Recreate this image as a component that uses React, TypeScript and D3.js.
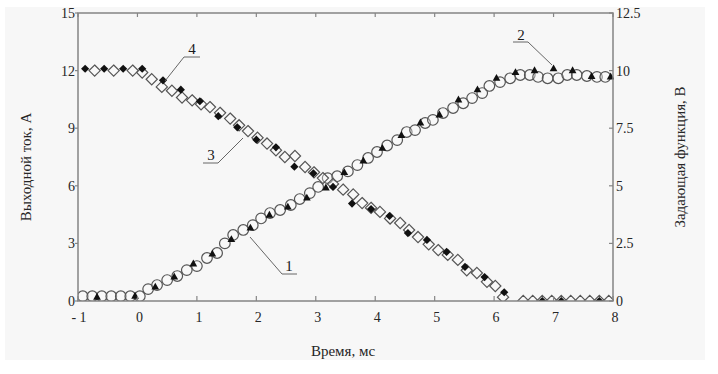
import React from "react";
import * as d3 from "d3";

// Series 1: open circles – output current, A
const s1T = [-0.92, -0.76, -0.6, -0.44, -0.28, -0.12, 0.04, 0.18, 0.33, 0.5, 0.67, 0.83, 1.0, 1.17, 1.34, 1.47, 1.61, 1.78, 1.94, 2.08, 2.23, 2.4, 2.58, 2.73, 2.9, 3.04, 3.2, 3.36, 3.54, 3.7, 3.88, 4.03, 4.2, 4.37, 4.53, 4.67, 4.84, 4.97, 5.14, 5.31, 5.48, 5.63, 5.8, 5.92, 6.1, 6.27, 6.44, 6.6, 6.74, 6.9, 7.08, 7.23, 7.39, 7.56, 7.73, 7.87];
const s1A = [0.25, 0.25, 0.25, 0.25, 0.25, 0.25, 0.25, 0.62, 0.83, 1.09, 1.3, 1.61, 1.82, 2.24, 2.5, 3.0, 3.44, 3.7, 3.95, 4.3, 4.58, 4.74, 5.0, 5.31, 5.62, 5.94, 6.4, 6.5, 6.75, 7.08, 7.45, 7.76, 8.1, 8.38, 8.8, 8.9, 9.27, 9.43, 9.79, 10.05, 10.3, 10.57, 10.83, 11.2, 11.4, 11.6, 11.77, 11.77, 11.67, 11.6, 11.6, 11.77, 11.77, 11.72, 11.67, 11.67];

// Series 2: filled triangles – set function, V
const s2T = [-0.68, -0.04, 0.3, 0.62, 0.94, 1.26, 1.58, 1.9, 2.22, 2.53, 2.85, 3.17, 3.48, 3.8, 4.12, 4.44, 4.76, 5.08, 5.4, 5.72, 6.04, 6.36, 6.68, 7.0, 7.32, 7.64, 7.96];
const s2V = [0.17, 0.21, 0.61, 1.04, 1.61, 2.04, 2.67, 3.17, 3.73, 4.08, 4.47, 4.91, 5.58, 6.08, 6.63, 7.19, 7.73, 8.08, 8.73, 9.17, 9.67, 9.92, 10.0, 10.08, 10.0, 9.75, 9.73];

// Series 3: open diamonds – output current, A
const s3T = [-0.72, -0.4, -0.08, 0.08, 0.24, 0.41, 0.58, 0.75, 0.92, 1.07, 1.22, 1.39, 1.56, 1.71, 1.86, 2.02, 2.18, 2.33, 2.48, 2.65, 2.82, 2.97, 3.12, 3.29, 3.46, 3.63, 3.78, 3.93, 4.08, 4.25, 4.42, 4.57, 4.72, 4.9, 5.06, 5.22, 5.39, 5.54, 5.71, 5.88, 6.02, 6.15, 6.49, 6.65, 6.81, 6.97, 7.13, 7.29, 7.45, 7.61, 7.77, 7.93];
const s3A = [12.0, 12.0, 12.0, 11.9, 11.55, 11.15, 10.95, 10.6, 10.45, 10.25, 10.1, 9.8, 9.5, 9.15, 8.85, 8.5, 8.2, 7.85, 7.5, 7.55, 6.98, 6.7, 6.4, 6.1, 5.8, 5.55, 5.1, 4.85, 4.64, 4.3, 4.06, 3.7, 3.33, 2.95, 2.65, 2.4, 2.14, 1.6, 1.46, 1.0, 0.78, 0.2, 0, 0, 0, 0, 0, 0, 0, 0, 0, 0];

// Series 4: filled diamonds – set function, V
const s4T = [-0.88, -0.56, -0.24, 0.08, 0.43, 0.73, 1.05, 1.36, 1.68, 2.0, 2.33, 2.64, 2.96, 3.29, 3.61, 3.93, 4.24, 4.55, 4.87, 5.2, 5.51, 5.84, 6.17, 6.81, 7.13, 7.77];
const s4V = [10.08, 10.08, 10.08, 10.08, 9.58, 9.17, 8.67, 8.02, 7.54, 7.0, 6.67, 5.83, 5.54, 4.95, 4.23, 3.99, 3.69, 2.95, 2.65, 2.13, 1.48, 1.04, 0.38, 0, 0, 0];

const xTicks = [-1, 0, 1, 2, 3, 4, 5, 6, 7, 8];
const yLeftTicks = [0, 3, 6, 9, 12, 15];
const yRightTicks = [0, 2.5, 5, 7.5, 10, 12.5];

const callouts = [
  { label: "1", pts: [[250, 237], [282, 274], [297, 274]], tx: 289, ty: 271 },
  { label: "2", pts: [[552, 65], [528, 42], [513, 42]], tx: 521, ty: 40 },
  { label: "3", pts: [[243, 138], [218, 163], [203, 163]], tx: 211, ty: 160 },
  { label: "4", pts: [[165, 81], [184, 57], [200, 57]], tx: 192, ty: 54 },
];

export default function App() {
  const L = 78, R = 613, T = 13, B = 301;
  const x = d3.scaleLinear().domain([-1, 8]).range([L, R]);
  const yL = d3.scaleLinear().domain([0, 15]).range([B, T]);
  const yR = d3.scaleLinear().domain([0, 12.5]).range([B, T]);
  const font = "'Liberation Serif', 'Times New Roman', serif";
  const axisColor = "#858585";
  const textColor = "#262626";
  const markStroke = "#555";
  const line = d3.line();

  const diamond = (cx: number, cy: number, r: number) =>
    `M${cx},${cy - r}L${cx + r},${cy}L${cx},${cy + r}L${cx - r},${cy}Z`;
  const tri = (cx: number, cy: number, s: number) =>
    `M${cx},${cy - s}L${cx + s * 0.9},${cy + s * 0.6}L${cx - s * 0.9},${cy + s * 0.6}Z`;

  return (
    <svg width={718} height={374} style={{ position: "absolute", left: 0, top: 0 }} fontFamily={font}>
      <rect x={0} y={0} width={718} height={374} fill="#ffffff" />
      <rect x={5} y={7} width={700} height={353} fill="#f7f7f7" />
      <defs>
        <clipPath id="plot">
          <rect x={L} y={T - 8} width={R - L + 1} height={B - T + 8} />
        </clipPath>
      </defs>

      {/* markers */}
      <g clipPath="url(#plot)">
        {s1T.map((t, i) => (
          <circle key={"c" + i} cx={x(t)} cy={yL(s1A[i])} r={5.3} fill="#f9f9f9" fillOpacity={0.35} stroke={markStroke} strokeWidth={1.2} />
        ))}
        {s2T.map((t, i) => (
          <path key={"t" + i} d={tri(x(t), yR(s2V[i]), 4.3)} fill="#111" />
        ))}
        {s3T.map((t, i) => (
          <path key={"d" + i} d={diamond(x(t), yL(s3A[i]), 5.6)} fill="#f9f9f9" fillOpacity={0.35} stroke={markStroke} strokeWidth={1.2} />
        ))}
        {s4T.map((t, i) => (
          <path key={"f" + i} d={diamond(x(t), yR(s4V[i]), 4.1)} fill="#111" />
        ))}
      </g>

      {/* frame */}
      <rect x={L} y={T} width={R - L} height={B - T} fill="none" stroke={axisColor} strokeWidth={1.5} />

      {/* x ticks */}
      {xTicks.map((t) => (
        <g key={"x" + t}>
          <line x1={x(t)} x2={x(t)} y1={B} y2={B - 5} stroke={axisColor} strokeWidth={1.2} />
          <line x1={x(t)} x2={x(t)} y1={T} y2={T + 4} stroke={axisColor} strokeWidth={1.2} />
          <text x={x(t) + (t === -1 ? 1 : 2)} y={322} fontSize={14} textAnchor="middle" fill={textColor}>
            {t === -1 ? "- 1" : String(t)}
          </text>
        </g>
      ))}

      {/* left ticks */}
      {yLeftTicks.map((v) => (
        <g key={"yl" + v}>
          <line x1={L - 3} x2={L} y1={yL(v)} y2={yL(v)} stroke={axisColor} strokeWidth={1.2} />
          <text x={L - 3} y={yL(v) + 5} fontSize={14} textAnchor="end" fill={textColor}>
            {v}
          </text>
        </g>
      ))}

      {/* right ticks */}
      {yRightTicks.map((v) => (
        <g key={"yr" + v}>
          <line x1={R - 4} x2={R} y1={yR(v)} y2={yR(v)} stroke={axisColor} strokeWidth={1.2} />
          <text x={R + 3} y={yR(v) + 5} fontSize={14} textAnchor="start" fill={textColor}>
            {v}
          </text>
        </g>
      ))}

      {/* axis titles */}
      <text x={343} y={356} fontSize={15} textAnchor="middle" fill={textColor}>
        Время, мс
      </text>
      <text transform="translate(31,167) rotate(-90)" fontSize={15} textAnchor="middle" fill={textColor}>
        Выходной ток, А
      </text>
      <text transform="translate(685,157) rotate(-90)" fontSize={15} textAnchor="middle" fill={textColor}>
        Задающая функция, В
      </text>

      {/* callouts */}
      {callouts.map((c) => (
        <g key={"co" + c.label}>
          <path d={line(c.pts as [number, number][]) || ""} fill="none" stroke="#666" strokeWidth={1} />
          <text x={c.tx} y={c.ty} fontSize={15} textAnchor="middle" fill="#1a1a1a">
            {c.label}
          </text>
        </g>
      ))}
    </svg>
  );
}
